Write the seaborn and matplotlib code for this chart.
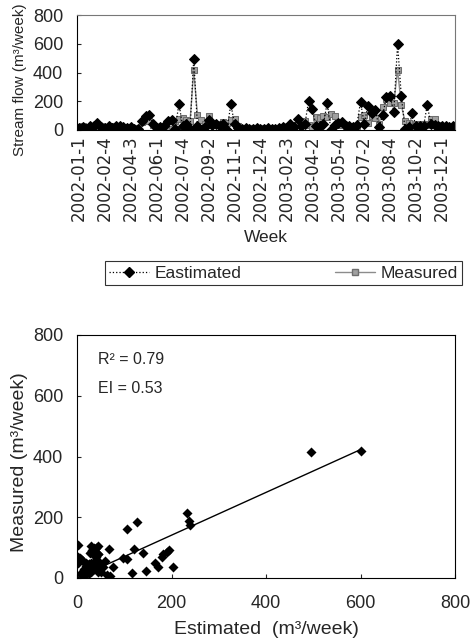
import numpy as np
import pandas as pd
import matplotlib
matplotlib.use('Agg')
import matplotlib.pyplot as plt
from matplotlib.lines import Line2D
import seaborn as sns

# weekly stream flow, 2002-01-1 .. 2003-12-4 (102 weeks)
weeks_per_month_2002 = [4, 4, 4, 4, 5, 4, 5, 4, 4, 4, 4, 4]
weeks_per_month_2003 = [4, 4, 4, 5, 5, 4, 5, 5, 4, 4, 4, 4]

estimated = [15, 20, 10, 25, 30, 50, 20, 15, 25, 15, 30, 25, 20, 15, 20, 10, 8, 60, 98, 105,
             40, 15, 20, 25, 63, 70, 6, 183, 30, 40, 5, 495, 30, 3, 20, 68, 35, 40, 30, 45,
             3, 180, 45, 15, 10, 15, 10, 8, 15, 10, 10, 15, 8, 10, 15, 20, 15, 45, 20, 77,
             30, 40, 204, 147, 31, 27, 40, 190, 3, 35, 49, 56, 25, 30, 20, 35, 195, 45, 165, 121,
             139, 20, 105, 232, 236, 128, 600, 240, 10, 20, 116, 25, 30, 25, 172, 45, 35, 30, 25, 30,
             20, 25]
measured = [20, 25, 20, 15, 20, 20, 25, 20, 15, 25, 30, 25, 20, 20, 15, 15, 12, 55, 65, 62,
            35, 12, 12, 15, 10, 5, 66, 80, 85, 70, 60, 415, 105, 70, 40, 95, 50, 45, 40, 55,
            50, 70, 80, 30, 15, 15, 12, 12, 12, 15, 12, 15, 12, 15, 15, 20, 20, 20, 30, 37,
            50, 60, 35, 24, 92, 82, 100, 87, 110, 100, 46, 37, 20, 30, 25, 30, 92, 105, 50, 94,
            81, 45, 160, 213, 187, 185, 418, 175, 60, 50, 18, 45, 40, 45, 37, 80, 75, 35, 30, 25,
            20, 20]

labels = []
for year, counts in [(2002, weeks_per_month_2002), (2003, weeks_per_month_2003)]:
    for m, n in enumerate(counts):
        for w in range(n):
            labels.append(f"{year}-{m + 1:02d}-{w + 1}")

assert len(labels) == len(estimated) == len(measured)
df = pd.DataFrame({'week': np.arange(len(labels)), 'label': labels,
                   'Estimated': estimated, 'Measured': measured})

# linear trend through the origin (as in the spreadsheet chart)
est = np.array(estimated, dtype=float)
mea = np.array(measured, dtype=float)
slope = (est * mea).sum() / (est ** 2).sum()
trend = pd.DataFrame({'x': [0, est.max()]})
trend['y'] = slope * trend['x']

sns.set_style('ticks')
plt.rcParams['font.family'] = ['Liberation Sans', 'DejaVu Sans']
tick_font = ['Liberation Sans Narrow', 'Liberation Sans', 'DejaVu Sans']

fig = plt.figure(figsize=(4.72, 6.44), dpi=100)
W, H = 472, 644

def add_axes(l, t, r, b):
    return fig.add_axes([l / W, 1 - b / H, (r - l) / W, (b - t) / H])

# ---- top: time series ----
ax1 = add_axes(77, 15, 455, 130)
sns.lineplot(data=df, x='week', y='Measured', ax=ax1, color='#8c8c8c', lw=1.0,
             marker='s', markersize=4.5, markeredgecolor='#6e6e6e', markerfacecolor='#a0a0a0')
sns.lineplot(data=df, x='week', y='Estimated', ax=ax1, color='black', lw=0.9, linestyle=':',
             marker='D', markersize=5.5, markeredgecolor='black', markerfacecolor='black')
ax1.set_xlim(-0.5, len(df) - 0.5)
ax1.set_ylim(0, 800)
ax1.set_yticks([0, 200, 400, 600, 800])
ax1.set_xticks(df['week'][::7])
ax1.set_xticklabels(df['label'][::7], rotation=90, fontsize=12, family='DejaVu Sans')
for t in ax1.get_yticklabels():
    t.set_family(tick_font)
ax1.tick_params(axis='y', direction='in', length=3, labelsize=13, pad=10)
ax1.tick_params(axis='x', length=0, pad=4)
ax1.set_xlabel('Week', fontsize=12.5, va='center')
ax1.xaxis.set_label_coords(0.5, (130 - 237) / 115)
ax1.set_ylabel('Stream flow (m³/week)', fontsize=11, va='center')
ax1.yaxis.set_label_coords((20 - 77) / 378, (130 - 80) / 115)
for s in ax1.spines.values():
    s.set_color('#777777')
    s.set_linewidth(0.8)
ax1.spines['left'].set_color('black')
ax1.spines['bottom'].set_color('black')

handles = [Line2D([], [], color='black', ls=':', lw=0.9, marker='D', markersize=5.5),
           Line2D([], [], color='#8c8c8c', ls='-', lw=1.0, marker='s', markersize=4.5,
                  markeredgecolor='#6e6e6e', markerfacecolor='#a0a0a0')]
leg = fig.legend(handles, ['Eastimated', 'Measured'], ncol=2, loc='lower left',
                 bbox_to_anchor=(105 / W, 1 - 285 / H, 357 / W, 33 / H), mode='expand',
                 fontsize=12.5, frameon=True, fancybox=False, edgecolor='black',
                 handlelength=2.3, borderpad=0.25, handletextpad=0.3, borderaxespad=0)
leg.get_frame().set_linewidth(0.8)

# ---- bottom: scatter ----
ax2 = add_axes(77, 335, 455, 578)
sns.scatterplot(data=df, x='Estimated', y='Measured', ax=ax2, marker='D', color='black',
                s=26, edgecolor='black', linewidth=0)
sns.lineplot(data=trend, x='x', y='y', ax=ax2, color='black', lw=1.0)
ax2.set_xlim(0, 800)
ax2.set_ylim(0, 800)
ax2.set_xticks([0, 200, 400, 600, 800])
ax2.set_yticks([0, 200, 400, 600, 800])
for t in ax2.get_xticklabels() + ax2.get_yticklabels():
    t.set_family(tick_font)
ax2.tick_params(direction='in', length=3, labelsize=13)
ax2.tick_params(axis='x', pad=12)
ax2.tick_params(axis='y', pad=10)
ax2.set_xlabel('Estimated  (m³/week)', fontsize=14, va='center')
ax2.xaxis.set_label_coords(0.5, (578 - 630) / 243)
ax2.set_ylabel('Measured (m³/week)', fontsize=14, va='center')
ax2.yaxis.set_label_coords((20 - 77) / 378, (578 - 462) / 243)
ax2.text(45, 720, 'R² = 0.79', fontsize=11.5, va='center', family=tick_font)
ax2.text(45, 625, 'EI = 0.53', fontsize=11.5, va='center', family=tick_font)
for s in ax2.spines.values():
    s.set_color('black')
    s.set_linewidth(0.8)

fig.savefig('out.png', dpi=100)
